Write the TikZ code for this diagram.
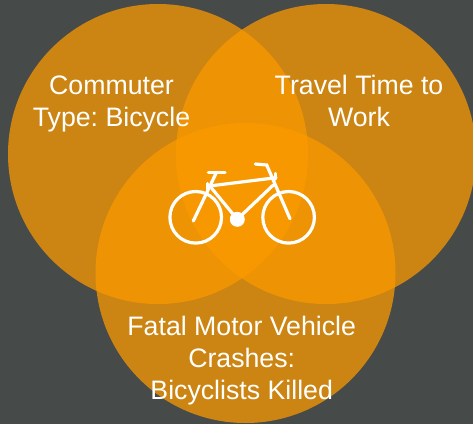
\documentclass[tikz,border=0pt]{standalone}
\usepackage{fontspec}
\setmainfont{Liberation Sans}
\frenchspacing
\definecolor{slatebg}{HTML}{464A49}
\definecolor{venncolor}{RGB}{251,154,0}
\tikzset{
	venn/.style={fill=venncolor, fill opacity=0.74},
	vennlabel/.style={text=white, align=center, font=\fontsize{26.7}{32}\selectfont},
	bikeline/.style={draw=white, line width=3.2pt, line cap=round},
}

\begin{document}
\begin{tikzpicture}[x=1pt, y=-1pt]
		%%%%% START %%%%%
		
		\useasboundingbox (0, 0) rectangle (473, 424);
		\clip (0, 0) rectangle (473, 424);
		\fill[slatebg] (0, 0) rectangle (473, 424);
		
		\fill[venn] (158, 154) circle (150pt);
		\fill[venn] (326, 154) circle (150pt);
		\fill[venn] (245.5, 273) circle (150pt);
		
		\node[vennlabel] (commuter) at (111.5, 103.5) {Commuter\\Type: Bicycle};
		\node[vennlabel] (travel) at (359, 101) {Travel Time to\\Work};
		\node[vennlabel] (fatal) at (241.7, 361) {Fatal Motor Vehicle\\Crashes:\\Bicyclists Killed};
		
		\draw[bikeline] (195.7, 217.3) circle (25.8pt);
		\draw[bikeline] (288.6, 217.3) circle (25.8pt);
		\fill[white] (237.3, 219.3) circle (7.5pt);
		
		\draw[bikeline] (193.3, 221) -- (216.3, 172.7);
		\draw[bikeline] (208.3, 172.3) -- (225, 172.3);
		\draw[bikeline] (209.3, 186) -- (276, 177.7);
		\draw[bikeline] (273.3, 185) -- (237.3, 219.3) -- (211.7, 188.3);
		\draw[bikeline] (290, 218.7) -- (266.7, 165) -- (255.3, 164);
		\draw[bikeline] (207.5, 183.5) -- (207.5, 189);
		\draw[bikeline] (275.7, 173.5) -- (275.7, 179);
		
		%%%%% END %%%%%
	\end{tikzpicture}
\end{document}
